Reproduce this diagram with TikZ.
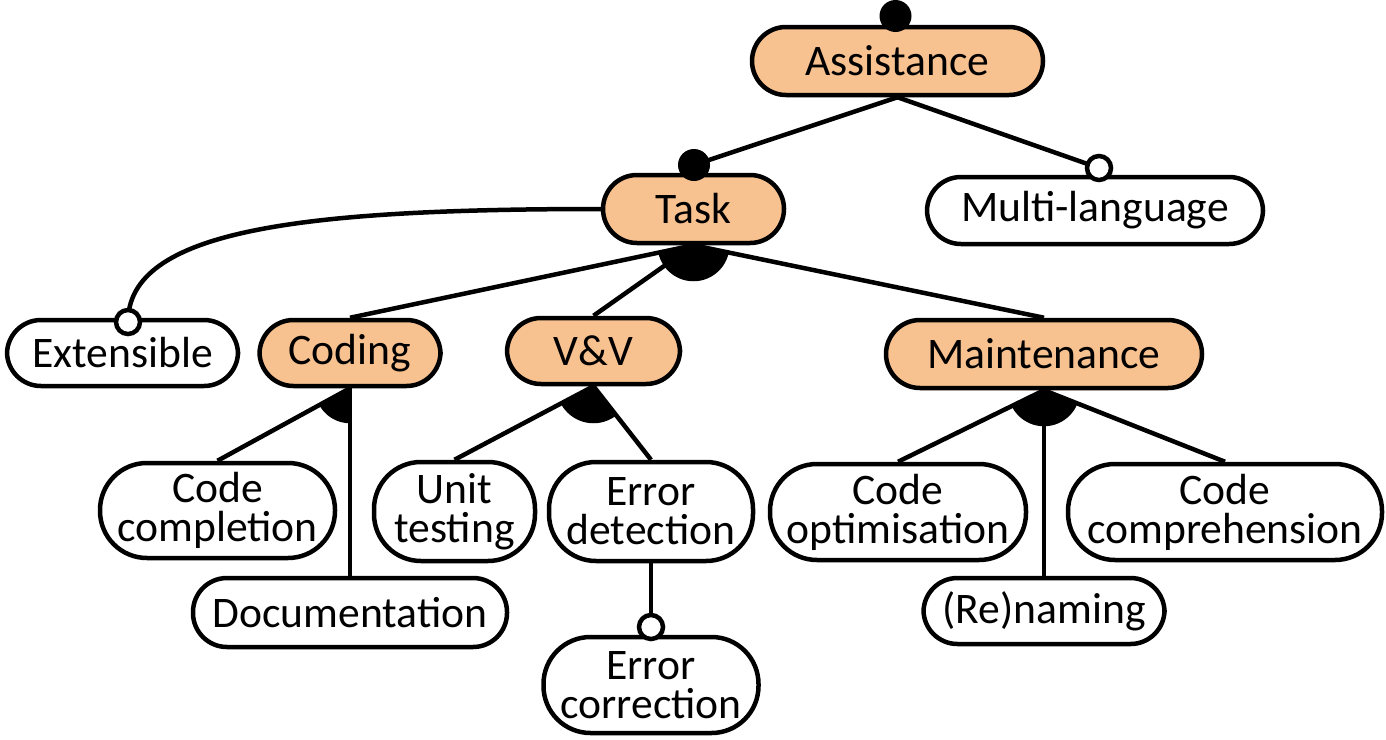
\documentclass[tikz,border=0pt]{standalone}
\usepackage{fontspec}
\setmainfont{Carlito}
\pgfdeclarelayer{background}
\pgfsetlayers{background,main}
\definecolor{featfill}{RGB}{248,193,144}
\tikzset{
  feat/.style={draw, line width=4.5pt, align=center, inner sep=0pt,
    font=\fontsize{43.6pt}{39pt}\selectfont, rounded corners=34pt},
  selfeat/.style={feat, fill=featfill},
  plainfeat/.style={feat, fill=white},
  tall/.style={rounded corners=47pt},
  conn/.style={line width=4.5pt},
  mand/.style={fill=black},
  opt/.style={draw, fill=white, line width=4.5pt},
}
\begin{document}
\begin{tikzpicture}[x=1pt,y=-1pt]
\useasboundingbox (0,0) rectangle (1386,739);
% features
\node[selfeat, minimum width=291pt, minimum height=68pt] (assist) at (897.5,61) {Assistance};
\node[selfeat, minimum width=181pt, minimum height=68pt] (task) at (693.5,209) {Task};
\node[plainfeat, minimum width=336pt, minimum height=67pt] (multi) at (1095,210.5) {Multi-language};
\node[plainfeat, minimum width=231pt, minimum height=66pt] (ext) at (122.5,353) {Extensible};
\node[selfeat, minimum width=181pt, minimum height=66pt] (coding) at (350,353) {Coding};
\node[selfeat, minimum width=173pt, minimum height=66pt] (vv) at (593.5,351) {V\&V};
\node[selfeat, minimum width=316pt, minimum height=68pt] (maint) at (1044,354) {Maintenance};
\node[plainfeat, tall, minimum width=235pt, minimum height=95pt] (cc) at (217.5,510.5) {Code\\completion};
\node[plainfeat, minimum width=314pt, minimum height=69pt] (doc) at (350,612.5) {Documentation};
\node[plainfeat, tall, minimum width=161pt, minimum height=99pt] (ut) at (454.5,511.5) {Unit\\testing};
\node[plainfeat, tall, minimum width=204pt, minimum height=99pt] (ed) at (651,511.5) {Error\\detection};
\node[plainfeat, tall, minimum width=215pt, minimum height=96pt] (ec) at (651,685) {Error\\correction};
\node[plainfeat, tall, minimum width=256pt, minimum height=96pt] (co) at (898,512) {Code\\optimisation};
\node[plainfeat, tall, minimum width=314pt, minimum height=96pt] (ccomp) at (1225,512) {Code\\comprehension};
\node[plainfeat, minimum width=241pt, minimum height=66pt] (ren) at (1044,611) {(Re)naming};
% marker positions
\coordinate (rootdot) at (895.5,16);
\coordinate (taskdot) at (694,165);
\coordinate (multic) at (1099,168);
\coordinate (extc) at (128,322);
\coordinate (ecc) at (651,627);
% connectors
\begin{pgfonlayer}{background}
\draw[conn] (assist.south) -- (taskdot);
\draw[conn] (assist.south) -- (multic);
\draw[conn] (task.west) .. controls (300,209) and (128,230) .. (extc);
\draw[conn] (task.south) -- (coding.north);
\draw[conn] (task.south) -- (vv.north);
\draw[conn] (task.south) -- (maint.north);
\draw[conn] (coding.south) -- (cc.north);
\draw[conn] (coding.south) -- (doc.north);
\draw[conn] (vv.south) -- (ut.north);
\draw[conn] (vv.south) -- (ed.north);
\draw[conn] (maint.south) -- (co.north);
\draw[conn] (maint.south) -- (ren.north);
\draw[conn] (maint.south) -- (ccomp.north);
\draw[conn] (ed.south) -- (ecc);
% or-group sectors
\begin{scope}
\clip (task.south) -- (coding.north) -- (maint.north) -- cycle;
\fill (task.south) circle (36pt);
\end{scope}
\begin{scope}
\clip (coding.south) -- (cc.north) -- (doc.north) -- cycle;
\fill (coding.south) circle (35pt);
\end{scope}
\begin{scope}
\clip (vv.south) -- (ut.north) -- (ed.north) -- cycle;
\fill (vv.south) circle (37pt);
\end{scope}
\begin{scope}
\clip (maint.south) -- (co.north) -- (ccomp.north) -- cycle;
\fill (maint.south) circle (36pt);
\end{scope}
\end{pgfonlayer}
% markers
\fill[mand] (rootdot) circle (16pt);
\fill[mand] (taskdot) circle (16pt);
\draw[opt] (multic) circle (12pt);
\draw[opt] (extc) circle (12pt);
\draw[opt] (ecc) circle (12pt);
\end{tikzpicture}
\end{document}
